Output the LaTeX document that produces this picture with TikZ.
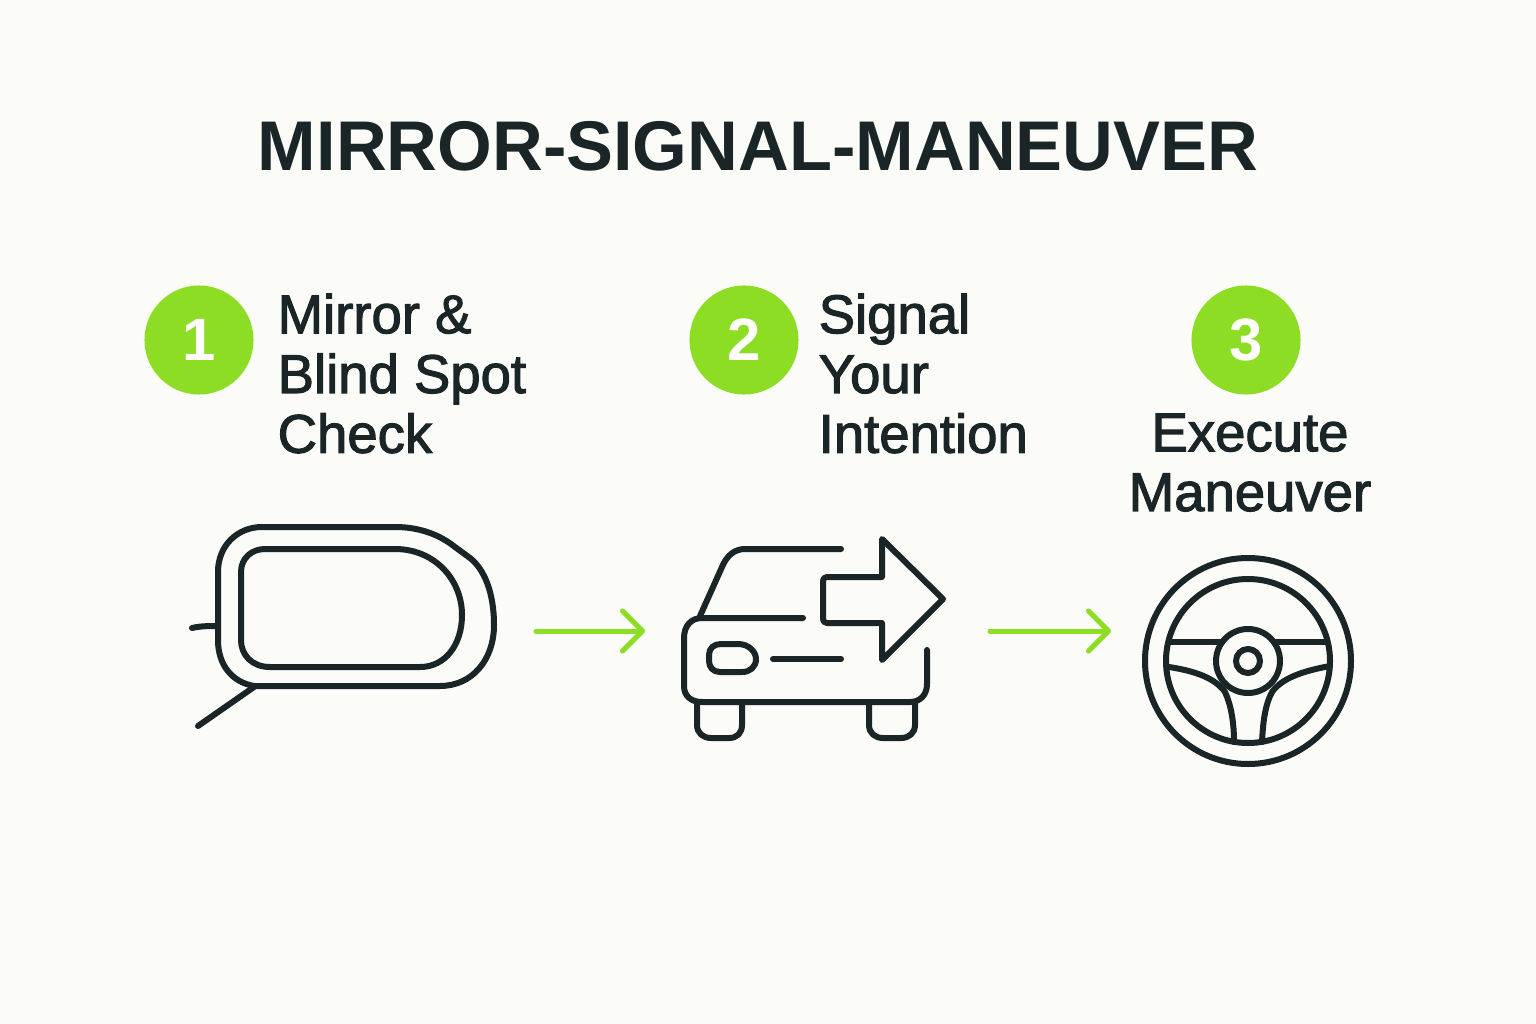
\documentclass[tikz,border=0pt]{standalone}
\usepackage{fontspec}
\usepackage{xcolor}
\setmainfont{Liberation Sans}
\newfontfamily\stepfont[FakeBold=2]{Liberation Sans}
\usetikzlibrary{arrows.meta}
\definecolor{paper}{HTML}{FBFBF7}
\definecolor{ink}{HTML}{1A2528}
\definecolor{lime}{HTML}{8EDD25}
\tikzset{
  icon/.style={draw=ink, line width=0.06cm, line cap=round, line join=round},
  badge/.style={circle, fill=lime, text=white, minimum size=1.09cm, inner sep=0pt,
    font=\bfseries\fontsize{17}{17}\selectfont},
  steptext/.style={text=ink, inner sep=0pt, font=\stepfont\fontsize{15.5}{17}\selectfont},
  flow/.style={draw=lime, line width=0.05cm, line cap=round,
    -{Straight Barb[length=0.2cm,width=0.4cm,line width=0.05cm,round]}},
}
\begin{document}
\begin{tikzpicture}[x=0.01cm,y=-0.01cm]
      \useasboundingbox[fill=paper] (0,0) rectangle (1536,1024);
      \node[text=ink, inner sep=0pt, font=\bfseries\fontsize{20}{24}\selectfont] (title) at (758,146) {MIRROR-SIGNAL-MANEUVER};

      % step headers
      \node[badge] (b1) at (199,340) {1};
      \node[badge] (b2) at (744,340) {2};
      \node[badge] (b3) at (1246,340) {3};
      \node[steptext, anchor=north west, align=left] (t1) at (277,293) {Mirror \&\\Blind Spot\\Check};
      \node[steptext, anchor=north west, align=left] (t2) at (818,293) {Signal\\Your\\Intention};
      \node[steptext, anchor=north, align=center] (t3) at (1250,413) {Execute\\Maneuver};

      % mirror
      \draw[icon] (262,527) -- (395,527) .. controls (420,527) and (440,535) .. (455,547)
        -- (470,558) .. controls (484,569) and (494,592) .. (494,625)
        .. controls (494,660) and (472,686) .. (440,686) -- (254,686)
        .. controls (232,682) and (218,665) .. (218,640) -- (218,572)
        .. controls (218,545) and (238,527) .. (262,527) -- cycle;
      \draw[icon] (265,549) -- (395,549) .. controls (435,549) and (462,580) .. (462,615)
        .. controls (462,645) and (445,667) .. (420,667) -- (270,667)
        .. controls (252,667) and (241,655) .. (241,640) -- (241,572)
        .. controls (241,558) and (252,549) .. (265,549) -- cycle;
      \draw[icon] (192,628) .. controls (200,626) and (210,626) .. (218,626);
      \draw[icon] (198,726) -- (254,687);

      % car
      \draw[icon] (700,616) -- (722,567) .. controls (727,555) and (735,549) .. (745,549) -- (841,549);
      \draw[icon] (803,618) -- (702,618) .. controls (691,618) and (684,626) .. (684,638)
        -- (684,686) .. controls (684,696) and (691,702) .. (702,702)
        -- (910,702) .. controls (920,702) and (927,695) .. (927,684) -- (927,650);
      \draw[icon] (721,644) -- (738,644) .. controls (749,644) and (756,652) .. (756,659)
        .. controls (756,667) and (750,672) .. (742,672) -- (720,672)
        .. controls (713,672) and (709,667) .. (709,661) -- (709,655)
        .. controls (709,648) and (714,644) .. (721,644) -- cycle;
      \draw[icon] (773,659) -- (841,659);
      \draw[icon] (882,539) -- (943,599) -- (882,660) -- (882,623) -- (827,623)
        .. controls (824,623) and (823,621) .. (823,619) -- (823,581)
        .. controls (823,579) and (824,577) .. (827,577) -- (882,577) -- cycle;
      \draw[icon] (697,704) -- (697,725) .. controls (697,733) and (703,738) .. (711,738)
        -- (729,738) .. controls (737,738) and (742,733) .. (742,725) -- (742,704);
      \draw[icon] (869,704) -- (869,725) .. controls (869,733) and (875,738) .. (883,738)
        -- (901,738) .. controls (909,738) and (915,733) .. (915,725) -- (915,704);

      % wheel
      \coordinate (w) at (1248,661);
      \draw[icon] (w) circle (103);
      \draw[icon] (w) circle (82);
      \draw[icon] (w) circle (32);
      \draw[icon] (w) circle (12);
      \draw[icon] (1170,642) -- (1220,642);
      \draw[icon] (1276,642) -- (1327,642);
      \draw[icon] (1169,667) .. controls (1195,671) and (1215,678) .. (1225,692)
        .. controls (1231,705) and (1234,722) .. (1234,742);
      \draw[icon] (1330,666) .. controls (1303,671) and (1282,678) .. (1272,692)
        .. controls (1265,705) and (1263,722) .. (1262,742);

      % connectors
      \coordinate (a1) at (536,631);
      \coordinate (a2) at (645,631);
      \coordinate (a3) at (990,631);
      \coordinate (a4) at (1111,631);
      \draw[flow] (a1) -- (a2);
      \draw[flow] (a3) -- (a4);
    \end{tikzpicture}
\end{document}
